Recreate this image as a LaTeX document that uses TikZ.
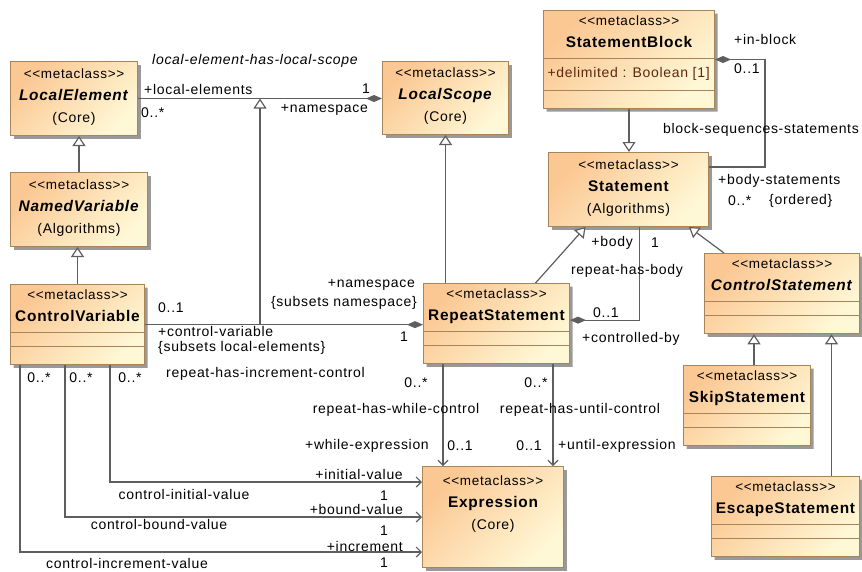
\documentclass[tikz,border=0pt]{standalone}
\usepackage{fontspec}
\setmainfont{Liberation Sans}[LetterSpace=5]
\usetikzlibrary{arrows.meta,positioning,calc,shapes.multipart,shadows}
\definecolor{clsorange}{HTML}{FBC792}
\definecolor{clscream}{HTML}{FFF8D6}
\definecolor{clsborder}{HTML}{A8845A}
\definecolor{linegray}{HTML}{5E5E5E}
\definecolor{attrbrown}{HTML}{5C2810}

\newcommand{\umlstrut}{\rule[-7pt]{0pt}{17pt}}
\newcommand{\stereo}{{\fontsize{13.5}{22}\selectfont\umlstrut<{}<metaclass>{}>}}
\newcommand{\cname}[1]{{\fontsize{15.4}{22}\selectfont\bfseries\umlstrut #1}}
\newcommand{\opsgap}{\phantom{\rule{1pt}{9pt}}}

\begin{document}
\begin{tikzpicture}[
  x=1pt, y=-1pt,
  font=\fontsize{14}{22}\selectfont,
  cls/.style={draw=clsborder, line width=1pt, top color=clsorange, bottom color=clscream, shading angle=45,
    drop shadow={shadow xshift=3pt, shadow yshift=-3pt, fill=black!40, opacity=1},
    align=center, anchor=north west, inner sep=4pt},
  cmp/.style={cls, rectangle split, rectangle split parts=3,
    rectangle split empty part height=5pt, rectangle split empty part depth=0pt},
  lbl/.style={font=\fontsize{14}{16}\selectfont, inner sep=1pt},
  assoc/.style={draw=linegray, line width=1.2pt},
  gen/.style={assoc, -{Triangle[open, length=10pt, width=13pt, fill=white]}},
  comp/.style={assoc, {Diamond[length=16pt, width=7pt]}-},
  nav/.style={assoc, -{Straight Barb[length=5pt, width=10pt]}}
]
  \useasboundingbox (0,0) rectangle (862,571);

  % metaclasses
  \node[cls, minimum width=127pt, minimum height=74pt] (le) at (10,61) {\stereo\\\cname{\textit{LocalElement}}\\(Core)\umlstrut};
  \node[cls, minimum width=126pt, minimum height=73pt] (ls) at (382,61) {\stereo\\\cname{\textit{LocalScope}}\\(Core)\umlstrut};
  \node[cls, minimum width=137pt, minimum height=74pt] (nv) at (10,172) {\stereo\\\cname{\textit{NamedVariable}}\\(Algorithms)\umlstrut};
  \node[cmp, minimum width=134pt] (cv) at (10,284) {\stereo\\\cname{ControlVariable}\nodepart{two}\nodepart{three}\opsgap};
  \node[cmp, minimum width=146pt] (rs) at (423,283) {\stereo\\\cname{RepeatStatement}\nodepart{two}\nodepart{three}\opsgap};
  \node[cmp, minimum width=171pt, rectangle split part align={center,left,center}] (sb) at (543,10)
    {\stereo\\\cname{StatementBlock}\nodepart{two}\textcolor{attrbrown}{\rule[-9pt]{0pt}{23pt}+delimited : Boolean [1]}\nodepart{three}\opsgap};
  \node[cls, minimum width=160pt, minimum height=74pt] (st) at (548,152) {\stereo\\\cname{Statement}\\(Algorithms)\umlstrut};
  \node[cmp, minimum width=155pt] (cs) at (704,253) {\stereo\\\cname{\textit{ControlStatement}}\nodepart{two}\nodepart{three}\opsgap};
  \node[cmp, minimum width=127pt] (sk) at (683,365) {\stereo\\\cname{SkipStatement}\nodepart{two}\nodepart{three}\opsgap};
  \node[cmp, minimum width=148pt] (es) at (711,476) {\stereo\\\cname{EscapeStatement}\nodepart{two}\nodepart{three}\opsgap};
  \node[cls, minimum width=141pt, minimum height=101pt, text depth=30pt] (ex) at (422,466) {\stereo\\\cname{Expression}\\(Core)\umlstrut};

  % generalizations
  \draw[gen] (nv.north) -- (nv.north |- le.south);
  \draw[gen] (cv.north) -- (cv.north |- nv.south);
  \draw[gen] (sb.south) -- (sb.south |- st.north);
  \draw[gen] (ls.south |- rs.north) -- (ls.south);
  \draw[gen] ([xshift=39pt]rs.north) -- ([xshift=-43pt]st.south);
  \draw[gen] ([xshift=-58pt]cs.north) -- ([xshift=-20pt]st.south east);
  \draw[gen] ([xshift=7pt]sk.north) -- ([xshift=7pt]sk.north |- cs.south);
  \draw[gen] ([xshift=46pt]es.north) -- ([xshift=46pt]es.north |- cs.south);

  % local-element-has-local-scope
  \coordinate (scope) at ($(le.east)!.5!(le.east -| ls.west)$);
  \draw[comp] (le.east -| ls.west) -- (le.east);
  \draw[gen] (scope |- cv.east) -- (scope);
  \node[lbl, font=\fontsize{14}{16}\selectfont\itshape] (scope-name) at (255,61) {local-element-has-local-scope};
  \node[lbl, anchor=west] (le-role) at (143,89) {+local-elements};
  \node[lbl, anchor=west] (le-mult) at (140,113) {0..*};
  \node[lbl, anchor=east] (ls-mult) at (371,89) {1};
  \node[lbl, anchor=east] (ls-role) at (369,110) {+namespace};

  % control variable of repeat
  \draw[comp] (cv.east -| rs.west) -- (cv.east);
  \node[lbl, anchor=west] (cv-mult) at (157,308) {0..1};
  \node[lbl, anchor=west] (cv-role) at (157,331) {+control-variable};
  \node[lbl, anchor=west] (cv-sub) at (157,348) {\{subsets local-elements\}};
  \node[lbl, anchor=east] (rs-role) at (416,285) {+namespace};
  \node[lbl, anchor=east] (rs-sub) at (418,303) {\{subsets namespace\}};
  \node[lbl] (rs-mult) at (404,337) {1};
  \node[lbl, anchor=west] (inc-name) at (165,374) {repeat-has-increment-control};

  % repeat-has-body
  \coordinate (body) at ([xshift=11pt]st.south);
  \draw[comp] ([yshift=3.5pt]rs.east) -| (body);
  \node[lbl, anchor=east] (body-role) at (634,243) {+body};
  \node[lbl] (body-mult) at (655,243) {1};
  \node[lbl] (body-name) at (627,271) {repeat-has-body};
  \node[lbl, anchor=west] (ctl-mult) at (592,313) {0..1};
  \node[lbl, anchor=west] (ctl-role) at (581,339) {+controlled-by};

  % block-sequences-statements
  \coordinate (blk) at ([yshift=-15pt]st.north east);
  \draw[comp] (sb.east) -| ([xshift=56pt]blk) -- (blk);
  \node[lbl, anchor=west] (blk-role) at (733,39) {+in-block};
  \node[lbl, anchor=west] (blk-mult) at (733,69) {0..1};
  \node[lbl] (blk-name) at (761,130) {block-sequences-statements};
  \node[lbl, anchor=west] (stm-role) at (717,181) {+body-statements};
  \node[lbl, anchor=west] (stm-mult) at (727,201) {0..*};
  \node[lbl, anchor=west] (stm-ord) at (768,201) {\{ordered\}};

  % while / until control
  \draw[nav] ([xshift=20pt]rs.south west) -- ([xshift=20pt]rs.south west |- ex.north);
  \draw[nav] ([xshift=130pt]rs.south west) -- ([xshift=130pt]rs.south west |- ex.north);
  \node[lbl] (wh-mult) at (416,383) {0..*};
  \node[lbl] (wh-name) at (396,410) {repeat-has-while-control};
  \node[lbl, anchor=east] (wh-role) at (430,446) {+while-expression};
  \node[lbl] (wh-exp) at (460,446) {0..1};
  \node[lbl] (un-mult) at (536,383) {0..*};
  \node[lbl] (un-name) at (580,410) {repeat-has-until-control};
  \node[lbl] (un-exp) at (529,446) {0..1};
  \node[lbl, anchor=west] (un-role) at (557,446) {+until-expression};

  % control values
  \draw[nav] ([xshift=100pt]cv.south west) |- ([yshift=35pt]ex.west);
  \draw[nav] ([xshift=55pt]cv.south west) |- (ex.west);
  \draw[nav] ([xshift=10pt]cv.south west) |- ([yshift=-35pt]ex.west);
  \node[lbl] (inc-mult) at (39,378) {0..*};
  \node[lbl] (bnd-mult) at (81,378) {0..*};
  \node[lbl] (ini-mult) at (130,378) {0..*};
  \node[lbl, anchor=east] (ini-role) at (404,474) {+initial-value};
  \node[lbl] (ini-name) at (184,494) {control-initial-value};
  \node[lbl] (ini-one) at (384,496) {1};
  \node[lbl, anchor=east] (bnd-role) at (404,509) {+bound-value};
  \node[lbl] (bnd-name) at (159,524) {control-bound-value};
  \node[lbl] (bnd-one) at (384,531) {1};
  \node[lbl, anchor=east] (inc-role) at (404,546) {+increment};
  \node[lbl] (inc-val) at (127,563) {control-increment-value};
  \node[lbl] (inc-one) at (384,563) {1};
\end{tikzpicture}
\end{document}
